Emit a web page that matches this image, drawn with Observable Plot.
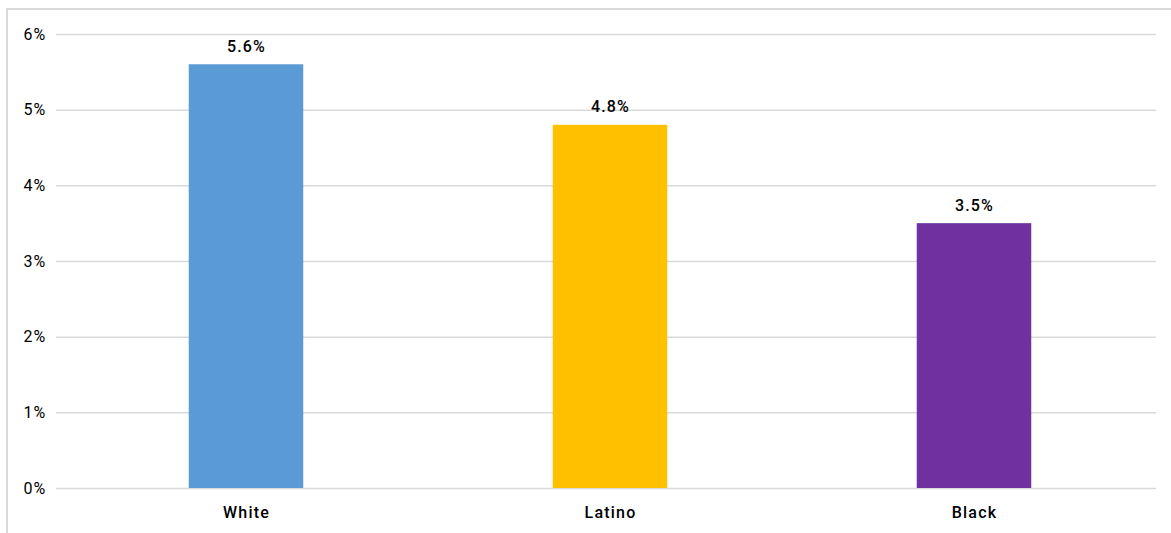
<!DOCTYPE html>
<html>
<head>
<meta charset="utf-8">
<script src="https://cdn.jsdelivr.net/npm/d3@7"></script>
<script src="https://cdn.jsdelivr.net/npm/@observablehq/plot@0.6"></script>
<style>
  html, body { margin: 0; padding: 0; background: #fff; overflow: hidden; }
  #wrap { position: relative; width: 1171px; height: 533px; }
  #frame { position: absolute; left: 6px; top: 8px; width: 1180px; height: 540px;
           border-top: 2px solid #d9d9d9; border-left: 2px solid #d9d9d9; box-sizing: border-box; }
  #chart { position: absolute; left: 0; top: 0; }
  #chart text { letter-spacing: 1.2px; }
</style>
</head>
<body>
<div id="wrap">
  <div id="frame"></div>
  <div id="chart"></div>
</div>
<script>
const categories = ["White", "Latino", "Black"];
const values = [5.6, 4.8, 3.5];
const colors = ["#5b9bd5", "#ffc000", "#7030a0"];
const yTicks = [0, 1, 2, 3, 4, 5, 6];

const data = categories.map((c, i) => ({category: c, value: values[i], color: colors[i]}));
const font = "Roboto, 'Liberation Sans', Arial, sans-serif";

const chart = Plot.plot({
  width: 1171,
  height: 533,
  marginLeft: 56,
  marginRight: 15,
  marginTop: 34,
  marginBottom: 45,
  style: {fontFamily: font, fontSize: "16px", color: "#000", background: "transparent", overflow: "visible"},
  x: {domain: categories, range: [63.25, 1156.75], padding: 0, label: null},
  y: {domain: [0, 6], label: null},
  marks: [
    Plot.ruleY(yTicks, {stroke: "#d9d9d9", strokeWidth: 1.5}),
    Plot.barY(data, {x: "category", y: "value", fill: "color", insetLeft: 124.75, insetRight: 124.75}),
    Plot.text(data, {x: "category", y: "value", text: d => d.value.toFixed(1) + "%", dy: -18,
      fontSize: 16, fontWeight: 500, fill: "#000"}),
    Plot.axisY(yTicks, {tickSize: 0, tickPadding: 10, tickFormat: d => d + "%", fontSize: 16, fill: "#000"}),
    Plot.axisX({tickSize: 0, tickPadding: 18, fontSize: 16, fontWeight: 500, fill: "#000"})
  ]
});
document.getElementById("chart").appendChild(chart);
</script>
</body>
</html>
